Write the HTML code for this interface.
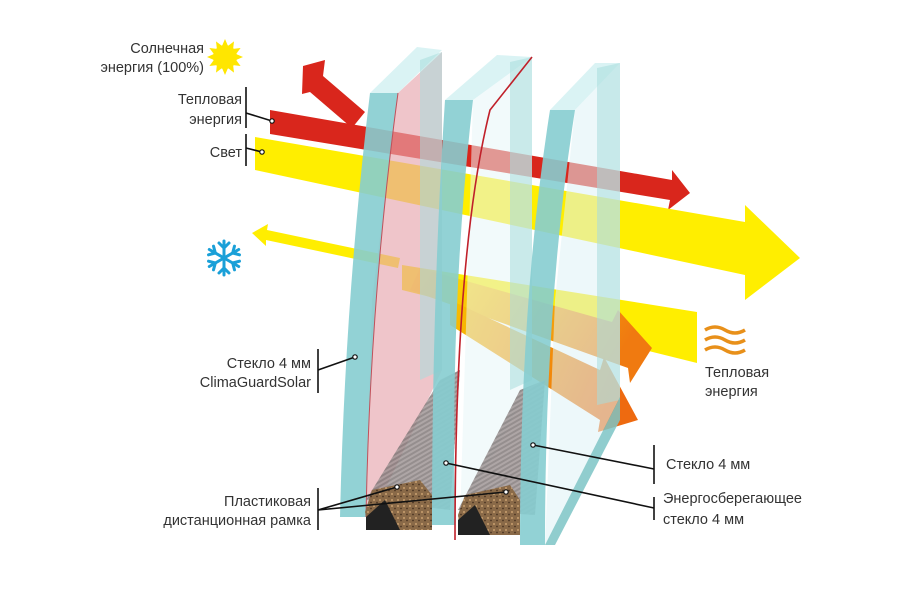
<!DOCTYPE html>
<html><head><meta charset="utf-8"><style>
html,body{margin:0;padding:0;background:#fff;}
svg{display:block;}
text{font-family:"Liberation Sans",sans-serif;font-size:14.5px;fill:#333;}
</style></head><body>
<svg width="924" height="591" viewBox="0 0 924 591" xmlns="http://www.w3.org/2000/svg">
<defs>
<linearGradient id="og" x1="0" y1="0" x2="1" y2="0.3"><stop offset="0" stop-color="#ffe800"/><stop offset="1" stop-color="#f07a10"/></linearGradient>
<linearGradient id="og2" x1="0" y1="0" x2="1" y2="0.3"><stop offset="0" stop-color="#f8c000"/><stop offset="1" stop-color="#ee6a10"/></linearGradient>
<pattern id="hatch" width="4" height="4" patternUnits="userSpaceOnUse" patternTransform="rotate(60)"><rect width="4" height="4" fill="#7a7272"/><rect width="2" height="4" fill="#9a9090"/></pattern>
<pattern id="cork" width="6" height="6" patternUnits="userSpaceOnUse"><rect width="6" height="6" fill="#8a6a48"/><circle cx="2" cy="2" r="1" fill="#c9a070"/><circle cx="5" cy="4.5" r="0.9" fill="#4a3422"/></pattern>
</defs>

<!-- reflected red arrow -->
<polygon points="303,66 325,60 323,76 365,112 352,128 310,92 302,94" fill="#d9261c"/>
<!-- incoming red band -->
<polygon points="270,110 672,180 672,170 690,193 668,210 670,200 270,134" fill="#d9261c"/>
<!-- yellow main band -->
<polygon points="255,137 745,222 745,205 800,258 745,300 745,275 255,170" fill="#ffee00"/>
<!-- thin reflected yellow -->
<polygon points="252,233 268,224 267,230 400,258 398,268 266,240 266,246" fill="#ffee00"/>
<!-- lower yellow band -->
<polygon points="402,265 697,312 697,363 402,290" fill="#ffee00"/>
<!-- orange arrows -->
<polygon points="420,268 612,322 618,310 652,348 630,383 628,368 410,290" fill="url(#og)"/>
<polygon points="450,300 600,370 604,357 638,420 598,432 600,420 450,325" fill="url(#og2)"/>

<!-- pane 1 -->
<polygon points="370,93 398,93 442,50 417,47" fill="#d6f2f3" opacity="0.9"/>
<polygon points="398,93 442,52 442,370 380,500 366,515 372,300" fill="#e6a6ad" opacity="0.65"/>
<polygon points="420,60 442,52 442,370 420,380" fill="#a8dcdd" opacity="0.55"/>
<path d="M370,93 L398,93 Q370,300 366,517 L340,517 Q345,300 370,93 Z" fill="#86cdd0" opacity="0.9"/>
<path d="M398,93 Q370,300 366,517" stroke="#c0505a" stroke-width="1" fill="none"/>

<!-- spacer 1 -->
<polygon points="366,500 440,380 460,370 450,510" fill="url(#hatch)" opacity="0.8"/>
<polygon points="372,490 420,480 432,495 432,530 370,530 365,512" fill="url(#cork)"/>
<polygon points="366,517 385,500 400,530 366,530" fill="#222"/>

<!-- pane 2 -->
<polygon points="445,100 473,100 532,57 497,55" fill="#d6f2f3" opacity="0.9"/>
<polygon points="473,100 532,57 532,380 460,520" fill="#e8f6f8" opacity="0.55"/>
<polygon points="510,62 532,57 532,380 510,390" fill="#a8dcdd" opacity="0.55"/>
<path d="M445,100 L473,100 Q450,300 455,525 L432,525 Q432,300 445,100 Z" fill="#86cdd0" opacity="0.9"/>
<path d="M532,57 L490,110 Q455,250 455,540" stroke="#c0202a" stroke-width="1.6" fill="none"/>

<!-- spacer 2 -->
<polygon points="458,510 520,390 545,380 535,515" fill="url(#hatch)" opacity="0.8"/>
<polygon points="465,495 510,485 520,500 520,535 460,535 458,515" fill="url(#cork)"/>
<polygon points="458,520 475,505 490,535 458,535" fill="#222"/>

<!-- pane 3 -->
<polygon points="550,110 575,110 620,63 595,63" fill="#d6f2f3" opacity="0.9"/>
<polygon points="575,110 620,63 620,397 545,545 555,300" fill="#dff3f5" opacity="0.55"/>
<polygon points="597,68 620,63 620,400 597,405" fill="#a8dcdd" opacity="0.55"/>
<path d="M550,110 L575,110 Q545,300 545,545 L520,545 Q520,300 550,110 Z" fill="#86cdd0" opacity="0.9"/>
<polygon points="545,545 620,397 620,420 555,545" fill="#7cc4c6" opacity="0.85"/>

<!-- sun -->
<g transform="translate(225,57)" fill="#ffe600">
<circle r="12"/>
<g id="r"><polygon points="-3,-11 0,-18 3,-11"/></g>
<use href="#r" transform="rotate(30)"/><use href="#r" transform="rotate(60)"/><use href="#r" transform="rotate(90)"/><use href="#r" transform="rotate(120)"/><use href="#r" transform="rotate(150)"/><use href="#r" transform="rotate(180)"/><use href="#r" transform="rotate(210)"/><use href="#r" transform="rotate(240)"/><use href="#r" transform="rotate(270)"/><use href="#r" transform="rotate(300)"/><use href="#r" transform="rotate(330)"/>
</g>
<!-- snowflake -->
<g transform="translate(224,258)" stroke="#1aa0d8" stroke-width="3" stroke-linecap="round">
<g id="s"><line x1="0" y1="0" x2="0" y2="-17"/><line x1="0" y1="-10" x2="-5" y2="-15"/><line x1="0" y1="-10" x2="5" y2="-15"/></g>
<use href="#s" transform="rotate(60)"/><use href="#s" transform="rotate(120)"/><use href="#s" transform="rotate(180)"/><use href="#s" transform="rotate(240)"/><use href="#s" transform="rotate(300)"/>
</g>
<!-- heat waves -->
<g stroke="#e8901a" stroke-width="3.5" fill="none">
<path d="M705,330 q10,-6 20,0 t20,0"/><path d="M705,340 q10,-6 20,0 t20,0"/><path d="M705,350 q10,-6 20,0 t20,0"/>
</g>

<!-- labels -->
<g text-anchor="end">
<text x="204" y="53">Солнечная</text>
<text x="204" y="72">энергия (100%)</text>
<text x="242" y="104">Тепловая</text>
<text x="242" y="124">энергия</text>
<text x="242" y="157">Свет</text>
<text x="311" y="368">Стекло 4 мм</text>
<text x="311" y="387">ClimaGuardSolar</text>
<text x="311" y="506">Пластиковая</text>
<text x="311" y="525">дистанционная рамка</text>
</g>
<text x="705" y="377">Тепловая</text>
<text x="705" y="396">энергия</text>
<text x="666" y="469">Стекло 4 мм</text>
<text x="663" y="503">Энергосберегающее</text>
<text x="663" y="524">стекло 4 мм</text>

<!-- leaders -->
<g stroke="#111" stroke-width="1.6" fill="none">
<line x1="246" y1="87" x2="246" y2="128"/><line x1="246" y1="113" x2="272" y2="121"/>
<line x1="246" y1="134" x2="246" y2="166"/><line x1="246" y1="148" x2="262" y2="152"/>
<line x1="318" y1="349" x2="318" y2="393"/><line x1="318" y1="370" x2="355" y2="357"/>
<line x1="318" y1="488" x2="318" y2="530"/><line x1="318" y1="510" x2="397" y2="487"/><line x1="318" y1="510" x2="506" y2="492"/>
<line x1="654" y1="445" x2="654" y2="484"/><line x1="533" y1="445" x2="654" y2="469"/>
<line x1="654" y1="497" x2="654" y2="520"/><line x1="446" y1="463" x2="654" y2="508"/>
</g>
<g fill="#fff" stroke="#111" stroke-width="1.2">
<circle cx="272" cy="121" r="2.2"/><circle cx="262" cy="152" r="2.2"/><circle cx="355" cy="357" r="2.2"/>
<circle cx="397" cy="487" r="2.2"/><circle cx="506" cy="492" r="2.2"/><circle cx="533" cy="445" r="2.2"/><circle cx="446" cy="463" r="2.2"/>
</g>
</svg>
</body></html>
